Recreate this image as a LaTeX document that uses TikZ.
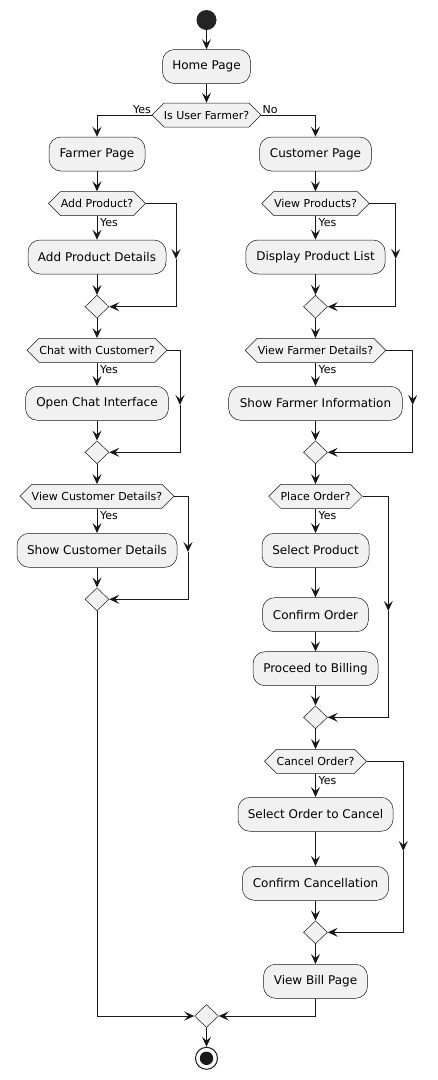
\documentclass[tikz,border=0pt]{standalone}
\usepackage{fontspec}
\setmainfont{DejaVu Sans}
\usetikzlibrary{shapes.geometric,arrows.meta}
\definecolor{ln}{HTML}{181818}
\definecolor{bx}{HTML}{F1F1F1}
\newcommand\hexq[5]{%
  \fill[bx] (#2-#4,#3) -- (#2-#4+12,#3-12) -- (#2+#4-12,#3-12) -- (#2+#4,#3) -- (#2+#4-12,#3+12) -- (#2-#4+12,#3+12) -- cycle;
  \draw[ln,line width=0.5pt,line join=miter] (#2-#4,#3) -- (#2-#4+12,#3-12) -- (#2+#4-12,#3-12) -- (#2+#4,#3) -- (#2+#4-12,#3+12) -- (#2-#4+12,#3+12) -- cycle;
  \node[qlabel,minimum width={2*#4}] (#1) at (#2,#3) {#5};}
\begin{document}
\begin{tikzpicture}[x=1pt,y=-1pt,
  arr/.style={ln,line width=1pt,-{Stealth[length=10pt,width=9pt,inset=4pt]}},
  plain/.style={ln,line width=1pt},
  act/.style={draw=ln,line width=0.5pt,fill=bx,rounded corners=12pt,minimum height=34pt,inner sep=0pt,font=\fontsize{12pt}{14pt}\selectfont},
  qlabel/.style={inner sep=0pt,minimum height=24pt,font=\fontsize{11pt}{13pt}\selectfont},
  merge/.style={diamond,draw=ln,line width=0.5pt,fill=bx,minimum width=24pt,minimum height=23pt,inner sep=0pt},
  yes/.style={inner sep=0pt,font=\fontsize{11pt}{13pt}\selectfont}]
\useasboundingbox (0,0) rectangle (437,1080);
% start
\node[circle,fill=ln!95!white,minimum size=20pt,inner sep=0pt] (start) at (206.5,20) {};
\node[act,minimum width=88pt] (home) at (206.5,66.5) {Home Page};
\hexq{isF}{206.5}{115}{54.5}{Is User Farmer?}
\node[act,minimum width=96pt] (farmer) at (97,154) {Farmer Page};
\node[act,minimum width=112pt] (customer) at (315.5,154) {Customer Page};
% left column
\hexq{addQ}{97}{203.5}{48.5}{Add Product?}
\node[act,minimum width=138pt] (addDet) at (97,257) {Add Product Details};
\node[merge] (m1) at (97,306.7) {};
\hexq{chatQ}{97}{350.3}{70}{Chat with Customer?}
\node[act,minimum width=143pt] (chat) at (97,403.3) {Open Chat Interface};
\node[merge] (m2) at (97,452.3) {};
\hexq{custQ}{97}{496.3}{77}{View Customer Details?}
\node[act,minimum width=160pt] (showCust) at (97,550.3) {Show Customer Details};
\node[merge] (m3) at (97,599.3) {};
% right column
\hexq{prodQ}{315.5}{203.5}{53.7}{View Products?}
\node[act,minimum width=139.4pt] (dispList) at (315.5,257) {Display Product List};
\node[merge] (m4) at (315.5,306.7) {};
\hexq{farmQ}{315.5}{350.3}{70.4}{View Farmer Details?}
\node[act,minimum width=173.7pt] (showFarm) at (315.5,403.3) {Show Farmer Information};
\node[merge] (m5) at (315.5,452.3) {};
\hexq{placeQ}{315.5}{496.3}{46.8}{Place Order?}
\node[act,minimum width=107pt] (selProd) at (315.5,550.3) {Select Product};
\node[act,minimum width=106pt] (confOrd) at (315.5,614.7) {Confirm Order};
\node[act,minimum width=125pt] (proceed) at (315.5,668.7) {Proceed to Billing};
\node[merge] (m6) at (315.5,717.3) {};
\hexq{cancelQ}{315.5}{761.3}{51}{Cancel Order?}
\node[act,minimum width=155pt] (selCancel) at (315.5,814.3) {Select Order to Cancel};
\node[act,minimum width=146.4pt] (confCancel) at (315.5,883.3) {Confirm Cancellation};
\node[merge] (m7) at (315.5,932.3) {};
\node[act,minimum width=104pt] (bill) at (315.5,981.3) {View Bill Page};
\node[merge] (fin) at (206.5,1016) {};
\node[circle,draw=ln,line width=1pt,fill=white,minimum size=22pt,inner sep=0pt] (stop) at (206.5,1058.3) {};
\fill[ln] (stop.center) circle (6.7pt);
% coordinates for mid-arrows
\coordinate (cA) at (176,259);
\coordinate (cB) at (180,405);
\coordinate (cC) at (188,552);
\coordinate (cD) at (395.7,259);
\coordinate (cE) at (412.7,405);
\coordinate (cF) at (388.3,611);
\coordinate (cG) at (403.3,851);
% connectors
\draw[arr] (start.south) -- (home.north);
\draw[arr] (home.south) -- (isF.north);
\draw[arr] (isF.west) -| (farmer.north);
\draw[arr] (isF.east) -| (customer.north);
\node[yes,anchor=base east] (yF) at (151,113) {Yes};
\node[yes,anchor=base west] (nF) at (262.5,113) {No};
% left
\draw[arr] (farmer.south) -- (addQ.north);
\draw[arr] (addQ.south) -- (addDet.north);
\node[yes,anchor=north west] (y1) at (100,218) {Yes};
\draw[arr] (addQ.east) -| (cA);
\draw[arr] (cA) |- (m1.east);
\draw[arr] (addDet.south) -- (m1.north);
\draw[arr] (m1.south) -- (chatQ.north);
\draw[arr] (chatQ.south) -- (chat.north);
\node[yes,anchor=north west] (y2) at (100,365) {Yes};
\draw[arr] (chatQ.east) -| (cB);
\draw[arr] (cB) |- (m2.east);
\draw[arr] (chat.south) -- (m2.north);
\draw[arr] (m2.south) -- (custQ.north);
\draw[arr] (custQ.south) -- (showCust.north);
\node[yes,anchor=north west] (y3) at (100,511) {Yes};
\draw[arr] (custQ.east) -| (cC);
\draw[arr] (cC) |- (m3.east);
\draw[arr] (showCust.south) -- (m3.north);
\draw[arr] (m3.south) |- (fin.west);
% right
\draw[arr] (customer.south) -- (prodQ.north);
\draw[arr] (prodQ.south) -- (dispList.north);
\node[yes,anchor=north west] (y4) at (318.5,218) {Yes};
\draw[arr] (prodQ.east) -| (cD);
\draw[arr] (cD) |- (m4.east);
\draw[arr] (dispList.south) -- (m4.north);
\draw[arr] (m4.south) -- (farmQ.north);
\draw[arr] (farmQ.south) -- (showFarm.north);
\node[yes,anchor=north west] (y5) at (318.5,365) {Yes};
\draw[arr] (farmQ.east) -| (cE);
\draw[arr] (cE) |- (m5.east);
\draw[arr] (showFarm.south) -- (m5.north);
\draw[arr] (m5.south) -- (placeQ.north);
\draw[arr] (placeQ.south) -- (selProd.north);
\node[yes,anchor=north west] (y6) at (318.5,511) {Yes};
\draw[arr] (placeQ.east) -| (cF);
\draw[arr] (cF) |- (m6.east);
\draw[arr] (selProd.south) -- (confOrd.north);
\draw[arr] (confOrd.south) -- (proceed.north);
\draw[arr] (proceed.south) -- (m6.north);
\draw[arr] (m6.south) -- (cancelQ.north);
\draw[arr] (cancelQ.south) -- (selCancel.north);
\node[yes,anchor=north west] (y7) at (318.5,776) {Yes};
\draw[arr] (cancelQ.east) -| (cG);
\draw[arr] (cG) |- (m7.east);
\draw[arr] (selCancel.south) -- (confCancel.north);
\draw[arr] (confCancel.south) -- (m7.north);
\draw[arr] (m7.south) -- (bill.north);
\draw[arr] (bill.south) |- (fin.east);
\draw[arr] (fin.south) -- (stop.north);
\end{tikzpicture}
\end{document}
